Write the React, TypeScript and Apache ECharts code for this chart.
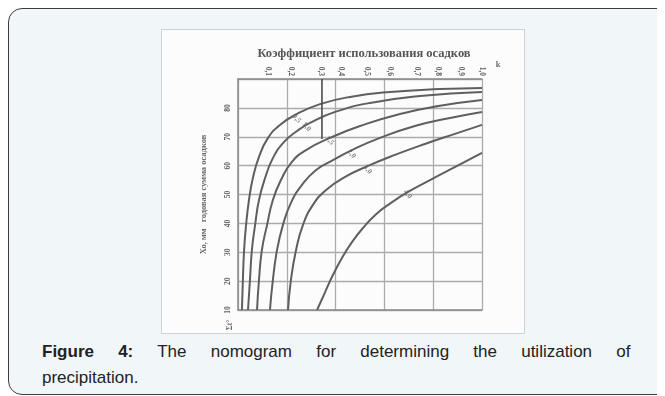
import React, { useEffect, useRef } from "react";
import * as echarts from "echarts";

// Top scale: utilisation coefficient, irregularly spaced along the grid
const topTickPos = [12.3, 22.1, 34.4, 42.6, 52.9, 62.3, 73.4, 82.0, 91.8, 100];
const topTickLabels = ["0,1", "0,2", "0,3", "0,4", "0,5", "0,6", "0,7", "0,8", "0,9", "1,0"];

// Left scale (rotated labels)
const yMin = 10;
const yMax = 90;
const yStep = 10;

// Nomogram curves, [x, y] in grid units
const curve1 = [[1.6, 10], [2.0, 20.4], [2.5, 30.8], [3.3, 39.4], [4.5, 48.1], [6.1, 55.7], [8.6, 63.0], [12.3, 69.6], [17.2, 74.1], [24.2, 77.9], [33.6, 81.3], [45.9, 83.8], [62.3, 85.5], [82.8, 86.5], [100, 86.9]];
const curve2 = [[4.1, 10], [4.9, 20.4], [5.7, 30.8], [7.0, 39.4], [8.6, 48.1], [11.1, 55.7], [14.3, 62.6], [18.9, 68.2], [24.2, 72.0], [29.5, 74.8], [39.8, 78.6], [54.1, 81.7], [74.6, 84.1], [100, 85.5]];
const curve3 = [[7.8, 10], [8.6, 20.4], [9.8, 30.8], [11.9, 39.4], [14.3, 48.1], [17.6, 55.0], [22.1, 61.3], [27.9, 65.4], [37.7, 69.6], [50.0, 73.7], [66.4, 77.9], [82.8, 80.7], [100, 82.7]];
const curve4 = [[13.1, 10], [14.3, 20.4], [16.0, 30.8], [18.4, 39.4], [21.7, 47.1], [26.2, 53.3], [32.0, 58.5], [38.9, 61.9], [46.7, 65.4], [58.2, 69.6], [72.5, 73.7], [86.9, 76.5], [100, 78.6]];
const curve5 = [[20.5, 10], [21.7, 20.4], [23.8, 30.8], [26.6, 39.4], [30.7, 46.4], [36.1, 51.6], [43.9, 56.1], [53.3, 59.9], [64.3, 63.7], [76.6, 67.5], [88.9, 71.0], [100, 74.1]];
const curve6 = [[32.4, 10], [35.7, 16.2], [38.9, 22.1], [42.6, 28.0], [46.7, 33.5], [51.2, 38.4], [56.6, 43.2], [62.7, 47.1], [69.7, 50.9], [78.7, 55.0], [89.8, 59.9], [100, 64.4]];
const curves = [curve1, curve2, curve3, curve4, curve5, curve6];

// Curve captions and where they sit on each curve
const curveNames = ["0,5", "1,0", "1,5", "2,0", "3,0", "4,0"];
const curveNamePos = [[24.2, 76.4], [28.3, 73.6], [37.7, 68.8], [46.7, 64.2], [53.3, 58.8], [69.7, 50.2]];

// Reading line dropped from the top scale
const guideLine = [[34.4, 90], [34.4, 69.2]];

const CURVE_COLOR = "#5f5f5f";
const GRID_COLOR = "#ababab";
const TEXT_COLOR = "#5c5c5c";

function Nomogram() {
  const ref = useRef<HTMLDivElement>(null);
  useEffect(() => {
    if (!ref.current) return;
    const chart = echarts.init(ref.current, null, { renderer: "svg" });
    const series: any[] = curves.map((c, i) => ({
      type: "line",
      name: curveNames[i],
      data: c,
      smooth: 0.5,
      showSymbol: false,
      silent: true,
      lineStyle: { color: CURVE_COLOR, width: 2 },
    }));
    series.push({
      type: "line",
      data: guideLine,
      showSymbol: false,
      silent: true,
      lineStyle: { color: "#555", width: 1.7 },
    });
    series.push({
      type: "scatter",
      symbolSize: 0,
      silent: true,
      data: curveNamePos.map((p, i) => ({ value: p, name: curveNames[i] })),
      label: {
        show: true,
        position: "inside",
        formatter: (p: any) => p.name,
        fontSize: 7.5,
        fontWeight: "bold",
        color: "#6a6a6a",
        rotate: -50,
        fontFamily: "Liberation Serif",
      },
    });
    chart.setOption({
      animation: false,
      backgroundColor: "transparent",
      grid: { left: 76, right: 42, top: 49, bottom: 23 },
      xAxis: [
        {
          type: "value",
          min: 0,
          max: 100,
          interval: 20,
          position: "bottom",
          axisLine: { show: true, lineStyle: { color: "#8a8a8a", width: 1.5 } },
          axisTick: { show: false },
          axisLabel: { show: false },
          splitLine: { show: true, lineStyle: { color: GRID_COLOR, width: 1.3 } },
        },
        {
          type: "value",
          min: 0,
          max: 100,
          position: "top",
          axisLine: { show: true, lineStyle: { color: "#8a8a8a", width: 1.5 } },
          axisTick: { show: false },
          splitLine: { show: false },
          axisLabel: {
            show: true,
            rotate: 90,
            margin: 3,
            fontSize: 7.5,
            fontWeight: "bold",
            color: TEXT_COLOR,
            fontFamily: "Liberation Serif",
            customValues: topTickPos,
            formatter: (v: number) => {
              const k = topTickPos.indexOf(v);
              return k >= 0 ? topTickLabels[k] : "";
            },
          },
        },
      ],
      yAxis: {
        type: "value",
        min: yMin,
        max: yMax,
        interval: yStep,
        axisLine: { show: true, lineStyle: { color: "#8a8a8a", width: 1.5 } },
        axisTick: { show: false },
        splitLine: { show: true, lineStyle: { color: GRID_COLOR, width: 1.3 } },
        axisLabel: {
          rotate: 90,
          margin: 7,
          fontSize: 7.5,
          fontWeight: "bold",
          color: TEXT_COLOR,
          fontFamily: "Liberation Serif",
          showMaxLabel: false,
        },
        name: "Хо, мм   годовая сумма осадков",
        nameLocation: "middle",
        nameRotate: 90,
        nameGap: 31,
        nameTextStyle: { fontSize: 8.5, fontWeight: "bold", color: "#6a6a6a", fontFamily: "Liberation Serif" },
      },
      graphic: [
        {
          type: "text",
          x: 202,
          y: 23,
          style: {
            text: "Коэффициент использования осадков",
            fontSize: 12.5,
            fontWeight: "bold",
            fontFamily: "Liberation Serif",
            fill: "#555",
            textAlign: "center",
            textVerticalAlign: "middle",
          },
        },
        {
          type: "text",
          x: 336,
          y: 34,
          style: {
            text: "k",
            fontSize: 8.5,
            fontWeight: "bold",
            fontFamily: "Liberation Serif",
            fill: "#6a6a6a",
            textAlign: "center",
            textVerticalAlign: "middle",
          },
        },
        {
          type: "text",
          x: 67,
          y: 295,
          rotation: Math.PI / 2,
          style: {
            text: "Σt°",
            fontSize: 7.5,
            fontWeight: "bold",
            fontFamily: "Liberation Serif",
            fill: "#6a6a6a",
            textAlign: "center",
            textVerticalAlign: "middle",
          },
        },
      ],
      series,
    });
    return () => chart.dispose();
  }, []);
  return (
    <div
      ref={ref}
      style={{ width: 362, height: 303, filter: "blur(0.5px)" }}
    />
  );
}

export default function App() {
  return (
    <div style={{ position: "relative", width: 657, height: 388, overflow: "hidden" }}>
      <div
        style={{
          position: "absolute",
          left: 0,
          top: 0,
          width: 720,
          height: 387,
          boxSizing: "border-box",
          border: "1.5px solid #3c3c3c",
          borderRadius: 14,
          background: "#f1f6f9",
        }}
      />
      <div
        style={{
          position: "absolute",
          left: 154,
          top: 22,
          width: 362,
          height: 303,
          background: "#fcfcfc",
          outline: "1px solid #cdd2d6",
        }}
      >
        <Nomogram />
      </div>
      <div
        style={{
          position: "absolute",
          left: 34,
          top: 331,
          fontFamily: "'Liberation Sans', Arial, sans-serif",
          fontSize: 17,
          lineHeight: "26px",
          color: "#222",
          whiteSpace: "nowrap",
        }}
      >
        <span style={{ wordSpacing: 19.5 }}>
          <b>Figure 4:</b> The nomogram for determining the utilization of
        </span>
        <br />
        precipitation.
      </div>
    </div>
  );
}
